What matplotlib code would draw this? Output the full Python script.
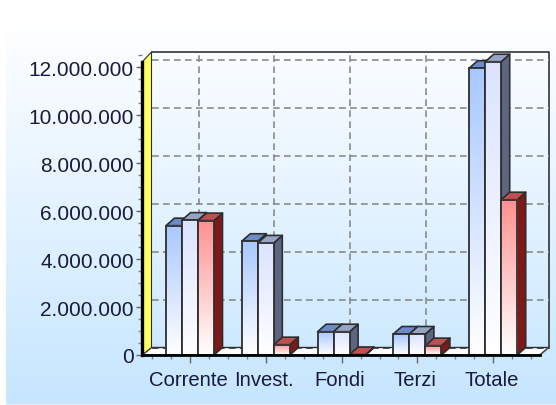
import numpy as np
import matplotlib
matplotlib.use("Agg")
import matplotlib.pyplot as plt
from matplotlib.colors import LinearSegmentedColormap
from matplotlib.patches import Polygon
from matplotlib.ticker import MultipleLocator
from matplotlib.transforms import ScaledTranslation

plt.rcParams['font.family'] = ['Liberation Sans', 'DejaVu Sans']

# values
categories = ["Corrente", "Invest.", "Fondi", "Terzi", "Totale"]
blue_values = [5390000, 4740000, 970000, 875000, 11950000]
white_values = [5620000, 4670000, 970000, 875000, 12220000]
red_values = [5600000, 430000, 20000, 390000, 6470000]
y_ticks = [0, 2000000, 4000000, 6000000, 8000000, 10000000, 12000000]
y_labels = ["0", "2.000.000", "4.000.000", "6.000.000", "8.000.000", "10.000.000", "12.000.000"]

# front colour at top, top face, side face
blue_style = ("#a8c8ff", "#6a8cc8", "#46608f")
white_style = ("#dbe3ff", "#98a4c4", "#5c6680")
red_style = ("#ff9090", "#c05050", "#801818")

W, H = 556, 406
fig = plt.figure(figsize=(W / 100, H / 100), dpi=100)

# background gradient, the panel leaves a white strip left and on top
bg = fig.add_axes([0, 0, 1, 1], zorder=0)
bg_cmap = LinearSegmentedColormap.from_list("bg", ["#ffffff", "#c6e6ff"])
bg.imshow(np.linspace(0, 1, 256).reshape(-1, 1), cmap=bg_cmap, aspect="auto", extent=[6, W, 405, 20])
bg.plot([6, W], [405.5, 405.5], color="#a0a8ac", lw=1)
bg.set_xlim(0, W)
bg.set_ylim(H, 0)
bg.axis("off")

# axes is the front plane of the fake 3d box
left, right, bottom, top = 142, 540, 356, 53
ax = fig.add_axes([left / W, 1 - bottom / H, (right - left) / W, (bottom - top) / H], zorder=1)
ax.patch.set_alpha(0)
xmin, xmax = (left - 190) / 75.8, (right - 190) / 75.8
ymax = (bottom - top) * 1000000 / 24
depth_x = 8.5 / 75.8
depth_y = 7.5 * 1000000 / 24
bar_w = 16 / 75.8

EDGE = "#2e2e2e"
GRID = "#8a8a8a"


def poly(points, color, z, edge=EDGE, lw=1.2):
    ax.add_patch(Polygon(points, closed=True, facecolor=color, edgecolor=edge, lw=lw,
                         zorder=z, clip_on=False, joinstyle="round"))


# floor and yellow wall
wall_x = xmin + 9.5 / 75.8
poly([(xmin, 0), (xmax, 0), (xmax + depth_x, depth_y), (wall_x, depth_y)], "white", 2, lw=1)
wall_top = ymax - 10 * 1000000 / 24
poly([(xmin, 0), (wall_x, depth_y), (wall_x, ymax), (xmin, wall_top)], "#ffff66", 2, lw=0.8)

# back wall frame
ax.plot([wall_x, xmax + depth_x, xmax + depth_x], [ymax, ymax, depth_y],
        color="#333333", lw=1.2, zorder=3, clip_on=False)
ax.plot([xmax, xmax + depth_x], [0, depth_y], color="#555555", lw=1, zorder=3, clip_on=False)

# dashed grid on the back wall
for v in y_ticks[1:]:
    ax.plot([wall_x, xmax + depth_x], [v + depth_y, v + depth_y], color=GRID,
            lw=1.2, dashes=(4, 2.6), zorder=3, clip_on=False)
ax.plot([wall_x, xmax + depth_x], [depth_y, depth_y], color="#333333",
        lw=1.2, dashes=(4, 2.6), zorder=3, clip_on=False)
for i in range(len(categories)):
    ax.plot([i + depth_x, i + depth_x], [depth_y, ymax], color=GRID,
            lw=1.2, dashes=(4, 2.6), zorder=3, clip_on=False)

# bars, left to right so each one covers the side of the one before
z = 10
for i in range(len(categories)):
    group = [(blue_values[i], blue_style), (white_values[i], white_style), (red_values[i], red_style)]
    for j, (val, style) in enumerate(group):
        x0 = i + (j - 1.5) * bar_w
        x1 = x0 + bar_w
        poly([(x1, 0), (x1 + depth_x, depth_y), (x1 + depth_x, val + depth_y), (x1, val)], style[2], z)
        poly([(x0, val), (x1, val), (x1 + depth_x, val + depth_y), (x0 + depth_x, val + depth_y)], style[1], z)
        cmap = LinearSegmentedColormap.from_list("bar", [style[0], "#ffffff"])
        ax.imshow(np.linspace(0, 1, 128).reshape(-1, 1), cmap=cmap, aspect="auto",
                  extent=[x0, x1, 0, val], origin="upper", zorder=z + 1, clip_on=False)
        ax.add_patch(Polygon([(x0, 0), (x1, 0), (x1, val), (x0, val)], closed=True, fill=False,
                             edgecolor=EDGE, lw=1.3, zorder=z + 2, clip_on=False))
        z += 3

ax.set_xlim(xmin, xmax)
ax.set_ylim(0, ymax)

for s in ["top", "right"]:
    ax.spines[s].set_visible(False)
ax.spines["left"].set_linewidth(2.4)
ax.spines["left"].set_color("black")
ax.spines["left"].set_bounds(0, wall_top)
ax.spines["bottom"].set_linewidth(2)
ax.spines["bottom"].set_color("black")
ax.spines["left"].set_zorder(200)
ax.spines["bottom"].set_zorder(200)

ax.set_xticks(range(len(categories)))
ax.set_xticklabels(categories)
ax.xaxis.set_minor_locator(MultipleLocator(0.25))
ax.set_yticks(y_ticks)
ax.set_yticklabels(y_labels)
ax.yaxis.set_minor_locator(MultipleLocator(500000))
ax.tick_params(axis="both", which="major", width=1, color="#666666",
               labelcolor="#1a1a3c")
ax.tick_params(axis="both", which="minor", length=3, width=1, color="#808080")
ax.tick_params(axis="x", which="major", length=6, pad=5, labelsize=14.6)
ax.tick_params(axis="y", which="major", length=8, direction="inout", pad=2, labelsize=15)

# category labels sit a little left of their ticks
shift = ScaledTranslation(-2 / 100, 0, fig.dpi_scale_trans)
for lab in ax.get_xticklabels():
    lab.set_transform(lab.get_transform() + shift)

fig.savefig("out.png", dpi=100)
